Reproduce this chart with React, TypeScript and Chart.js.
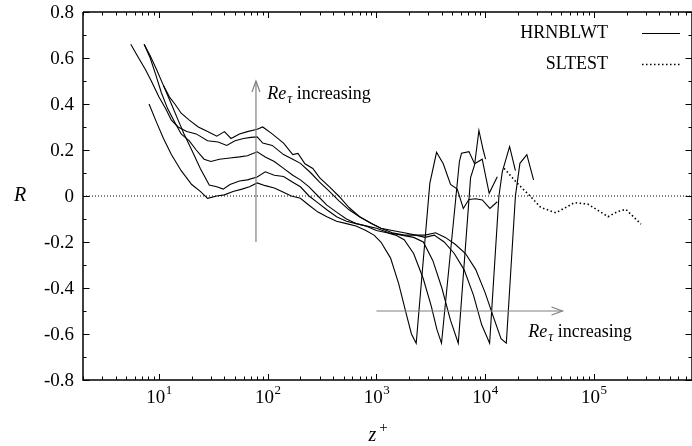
import React, { useEffect, useRef } from "react";
import { Chart, registerables } from "chart.js";

Chart.register(...registerables);

const SERIF = '"Liberation Serif", "Times New Roman", Times, serif';

// axis ranges
const X_MIN = 2;
const X_MAX = 8e5;
const Y_MIN = -0.8;
const Y_MAX = 0.8;

// tick labels
const yTickValues = [0.8, 0.6, 0.4, 0.2, 0, -0.2, -0.4, -0.6, -0.8];
const yTickLabels = ["0.8", "0.6", "0.4", "0.2", "0", "-0.2", "-0.4", "-0.6", "-0.8"];
const xTickValues = [10, 100, 1000, 10000, 100000];
const xTickBase = "10";
const xTickExponents = ["1", "2", "3", "4", "5"];

const legendLabels = ["HRNBLWT", "SLTEST"];
const xTitle = ["z", "+"];
const yTitle = "R";

// HRNBLWT curves (lowest to highest Re_tau)
const hrn1Z = [8.1, 9.5, 11, 13, 16, 20, 24, 28, 34, 40, 48, 58, 68, 80, 95, 115, 135, 165, 200, 240, 290, 350, 430, 530, 650, 800, 950, 1100, 1350, 1600, 1900, 2100, 2323, 3100, 3574, 4120, 4810, 5540, 6300, 7100, 8200, 9420, 11070, 12940];
const hrn1R = [0.40, 0.32, 0.25, 0.18, 0.11, 0.05, 0.02, -0.01, 0.0, 0.005, 0.02, 0.03, 0.04, 0.057, 0.045, 0.035, 0.02, 0.0, -0.01, -0.04, -0.07, -0.09, -0.11, -0.12, -0.13, -0.15, -0.17, -0.2, -0.27, -0.38, -0.52, -0.6, -0.64, 0.055, 0.19, 0.14, 0.05, 0.03, -0.054, -0.015, -0.012, -0.017, -0.054, -0.025];

const hrn2Z = [11, 13, 15, 17, 20, 24, 29, 34, 39, 45, 55, 65, 80, 95, 115, 140, 170, 200, 240, 290, 350, 430, 530, 650, 800, 1000, 1250, 1500, 1800, 2200, 2700, 3200, 3600, 3970, 5800, 6070, 7100, 8000, 9400, 10900, 12940];
const hrn2R = [0.48, 0.40, 0.33, 0.27, 0.2, 0.12, 0.048, 0.04, 0.03, 0.05, 0.065, 0.07, 0.083, 0.105, 0.09, 0.085, 0.06, 0.04, 0.0, -0.03, -0.06, -0.09, -0.11, -0.12, -0.13, -0.15, -0.16, -0.17, -0.19, -0.25, -0.36, -0.48, -0.58, -0.64, 0.15, 0.186, 0.193, 0.14, 0.16, 0.012, 0.084];

const hrn3Z = [7.3, 8.3, 9.3, 10.5, 12, 14, 16, 19, 22, 26, 30, 36, 45, 55, 65, 80, 95, 115, 140, 170, 200, 240, 290, 350, 430, 530, 650, 800, 1000, 1300, 1700, 2200, 2700, 3300, 4000, 4800, 5665, 7350, 8000, 8770, 9600, 10100];
const hrn3R = [0.66, 0.60, 0.53, 0.45, 0.38, 0.32, 0.27, 0.24, 0.2, 0.16, 0.15, 0.16, 0.165, 0.17, 0.175, 0.192, 0.17, 0.15, 0.12, 0.09, 0.07, 0.04, 0.0, -0.04, -0.07, -0.1, -0.12, -0.13, -0.14, -0.16, -0.17, -0.18, -0.2, -0.28, -0.4, -0.54, -0.64, 0.08, 0.135, 0.285, 0.2, 0.16];

const hrn4Z = [5.5, 6.5, 7.5, 8.5, 10, 11.5, 13, 15, 18, 22, 28, 35, 42, 50, 60, 70, 80, 90, 110, 140, 170, 200, 250, 300, 370, 450, 560, 700, 900, 1100, 1400, 1800, 2300, 2800, 3400, 4200, 5200, 6400, 7800, 9300, 11000, 13400, 14400, 16800, 19000];
const hrn4R = [0.66, 0.6, 0.55, 0.5, 0.43, 0.38, 0.33, 0.3, 0.28, 0.27, 0.24, 0.235, 0.22, 0.24, 0.25, 0.255, 0.257, 0.23, 0.22, 0.18, 0.16, 0.142, 0.1, 0.06, 0.02, -0.02, -0.06, -0.09, -0.12, -0.14, -0.16, -0.17, -0.17, -0.18, -0.17, -0.2, -0.25, -0.32, -0.43, -0.56, -0.64, 0.0, 0.106, 0.215, 0.11];

const hrn5Z = [7.3, 8.3, 9.5, 11, 12.5, 14, 16, 19, 23, 28, 34, 40, 46, 55, 65, 80, 90, 110, 140, 170, 190, 220, 260, 300, 370, 450, 560, 700, 900, 1100, 1400, 1800, 2300, 2800, 3500, 4300, 5300, 6600, 8200, 10000, 12000, 14000, 15670, 19000, 20900, 24200, 27900];
const hrn5R = [0.66, 0.61, 0.55, 0.48, 0.43, 0.4, 0.36, 0.33, 0.3, 0.28, 0.26, 0.28, 0.25, 0.27, 0.28, 0.29, 0.3, 0.27, 0.23, 0.18, 0.185, 0.14, 0.12, 0.08, 0.04, 0.0, -0.05, -0.09, -0.12, -0.14, -0.15, -0.16, -0.17, -0.17, -0.16, -0.18, -0.21, -0.25, -0.32, -0.42, -0.53, -0.62, -0.64, 0.0, 0.142, 0.18, 0.07];

// SLTEST curve
const sltZ = [14950, 19800, 26300, 32500, 44700, 55200, 66000, 87900, 108000, 135000, 165000, 197000, 271000];
const sltR = [0.12, 0.055, -0.003, -0.05, -0.073, -0.05, -0.029, -0.035, -0.061, -0.09, -0.068, -0.058, -0.122];

// zero reference line
const zeroZ = [X_MIN, X_MAX];
const zeroR = [0, 0];

// annotations
const arrowUpZ = [78, 78];
const arrowUpR = [-0.2, 0.5];
const arrowRightZ = [1000, 51500];
const arrowRightR = [-0.5, -0.5];
const annotUp = { z: 99, r: 0.42 };
const annotRight = { z: 24900, r: -0.612 };
const annotParts = ["Re", "\u03C4", " increasing"];

const zip = (zs: number[], rs: number[]) => zs.map((z, i) => ({ x: z, y: rs[i] }));

const hrnSeries = [
  [hrn1Z, hrn1R],
  [hrn2Z, hrn2R],
  [hrn3Z, hrn3R],
  [hrn4Z, hrn4R],
  [hrn5Z, hrn5R],
];

function drawArrowHead(ctx: CanvasRenderingContext2D, x: number, y: number, dx: number, dy: number) {
  const len = Math.hypot(dx, dy);
  const ux = dx / len, uy = dy / len;
  const L = 11, W = 4;
  ctx.beginPath();
  ctx.moveTo(x - ux * L - uy * W, y - uy * L + ux * W);
  ctx.lineTo(x, y);
  ctx.lineTo(x - ux * L + uy * W, y - uy * L - ux * W);
  ctx.stroke();
}

function drawAnnot(ctx: CanvasRenderingContext2D, x: number, y: number) {
  ctx.textAlign = "left";
  ctx.textBaseline = "alphabetic";
  ctx.font = `italic 18px ${SERIF}`;
  ctx.fillText(annotParts[0], x, y);
  let cx = x + ctx.measureText(annotParts[0]).width + 1;
  ctx.font = `italic 14px ${SERIF}`;
  ctx.fillText(annotParts[1], cx, y + 4);
  cx += ctx.measureText(annotParts[1]).width;
  ctx.font = `18px ${SERIF}`;
  ctx.fillText(annotParts[2], cx, y);
}

const decor = {
  id: "decor",
  afterDatasetsDraw(chart: any) {
    const { ctx, chartArea: a, scales } = chart;
    const xs = scales.x;
    const ys = scales.y;
    ctx.save();
    ctx.strokeStyle = "#000";
    ctx.fillStyle = "#000";

    // frame
    ctx.lineWidth = 1.5;
    ctx.beginPath();
    ctx.moveTo(a.left, a.top);
    ctx.lineTo(a.right, a.top);
    ctx.moveTo(a.left, a.top);
    ctx.lineTo(a.left, a.bottom);
    ctx.lineTo(a.right, a.bottom);
    ctx.lineTo(a.right, a.top);
    ctx.stroke();

    // ticks (inward, mirrored)
    ctx.lineWidth = 1;
    ctx.beginPath();
    for (let e = 0; e <= 6; e++) {
      for (let k = 1; k <= 9; k++) {
        const v = k * Math.pow(10, e);
        if (v < X_MIN || v > X_MAX) continue;
        const px = Math.round(xs.getPixelForValue(v)) + 0.5;
        const len = k === 1 ? 6 : 3.5;
        ctx.moveTo(px, a.bottom);
        ctx.lineTo(px, a.bottom - len);
        ctx.moveTo(px, a.top);
        ctx.lineTo(px, a.top + len);
      }
    }
    for (let i = -8; i <= 8; i++) {
      const v = i / 10;
      const py = Math.round(ys.getPixelForValue(v)) + 0.5;
      const len = i % 2 === 0 ? 6.5 : 3.5;
      ctx.moveTo(a.left, py);
      ctx.lineTo(a.left + len, py);
      ctx.moveTo(a.right, py);
      ctx.lineTo(a.right - len, py);
    }
    ctx.stroke();

    // y tick labels
    ctx.font = `19px ${SERIF}`;
    ctx.textAlign = "right";
    ctx.textBaseline = "middle";
    yTickValues.forEach((v, i) => {
      ctx.fillText(yTickLabels[i], a.left - 9, ys.getPixelForValue(v) + 1);
    });

    // x tick labels
    xTickValues.forEach((v, i) => {
      const px = xs.getPixelForValue(v);
      ctx.font = `19px ${SERIF}`;
      const wb = ctx.measureText(xTickBase).width;
      ctx.font = `13px ${SERIF}`;
      const we = ctx.measureText(xTickExponents[i]).width;
      const x0 = px - (wb + we) / 2;
      ctx.textAlign = "left";
      ctx.textBaseline = "alphabetic";
      ctx.font = `19px ${SERIF}`;
      ctx.fillText(xTickBase, x0, a.bottom + 23);
      ctx.font = `13px ${SERIF}`;
      ctx.fillText(xTickExponents[i], x0 + wb + 0.5, a.bottom + 14);
    });

    // axis titles
    ctx.font = `italic 20px ${SERIF}`;
    ctx.textAlign = "center";
    ctx.textBaseline = "alphabetic";
    ctx.fillText(yTitle, 20, ys.getPixelForValue(0) + 5);
    const midX = (a.left + a.right) / 2 - 15;
    ctx.fillText(xTitle[0], midX, 441);
    ctx.font = `15px ${SERIF}`;
    ctx.fillText(xTitle[1], midX + 11, 432);

    // legend
    ctx.font = `18px ${SERIF}`;
    ctx.textAlign = "right";
    ctx.fillText(legendLabels[0], 608, 38);
    ctx.fillText(legendLabels[1], 608, 69);
    ctx.lineWidth = 1.1;
    ctx.beginPath();
    ctx.moveTo(642, 33.5);
    ctx.lineTo(680, 33.5);
    ctx.stroke();
    ctx.setLineDash([1.5, 2.5]);
    ctx.lineWidth = 1.6;
    ctx.beginPath();
    ctx.moveTo(642, 64.5);
    ctx.lineTo(680, 64.5);
    ctx.stroke();
    ctx.setLineDash([]);

    // arrows
    ctx.strokeStyle = "#808080";
    ctx.lineWidth = 1.2;
    const ux = xs.getPixelForValue(arrowUpZ[0]);
    const uy0 = ys.getPixelForValue(arrowUpR[0]);
    const uy1 = ys.getPixelForValue(arrowUpR[1]);
    ctx.beginPath();
    ctx.moveTo(ux, uy0);
    ctx.lineTo(ux, uy1);
    ctx.stroke();
    drawArrowHead(ctx, ux, uy1, 0, -1);
    const rx0 = xs.getPixelForValue(arrowRightZ[0]);
    const rx1 = xs.getPixelForValue(arrowRightZ[1]);
    const ry = ys.getPixelForValue(arrowRightR[0]);
    ctx.beginPath();
    ctx.moveTo(rx0, ry);
    ctx.lineTo(rx1, ry);
    ctx.stroke();
    drawArrowHead(ctx, rx1, ry, 1, 0);

    // annotation text
    ctx.fillStyle = "#000";
    drawAnnot(ctx, xs.getPixelForValue(annotUp.z), ys.getPixelForValue(annotUp.r));
    drawAnnot(ctx, xs.getPixelForValue(annotRight.z), ys.getPixelForValue(annotRight.r));

    ctx.restore();
  },
};

export default function App() {
  const ref = useRef<HTMLCanvasElement | null>(null);
  useEffect(() => {
    if (!ref.current) return;
    const datasets: any[] = [
      {
        label: "zero",
        data: zip(zeroZ, zeroR),
        borderColor: "#000",
        borderWidth: 1,
        borderDash: [1, 2],
        pointRadius: 0,
        fill: false,
      },
      ...hrnSeries.map(([zs, rs], i) => ({
        label: i === 0 ? legendLabels[0] : `${legendLabels[0]} ${i + 1}`,
        data: zip(zs, rs),
        borderColor: "#000",
        borderWidth: 1.1,
        pointRadius: 0,
        tension: 0,
        fill: false,
      })),
      {
        label: legendLabels[1],
        data: zip(sltZ, sltR),
        borderColor: "#000",
        borderWidth: 1.6,
        borderDash: [1.5, 2.5],
        pointRadius: 0,
        tension: 0,
        fill: false,
      },
    ];
    const chart = new Chart(ref.current, {
      type: "line",
      data: { datasets },
      options: {
        animation: false,
        responsive: false,
        events: [],
        layout: { padding: { top: 12, left: 0, right: 0, bottom: 0 } },
        plugins: { legend: { display: false }, tooltip: { enabled: false } },
        scales: {
          x: {
            type: "logarithmic",
            min: X_MIN,
            max: X_MAX,
            grid: { display: false },
            border: { display: false },
            ticks: { display: false },
            afterFit: (s: any) => {
              s.height = 66;
            },
          },
          y: {
            type: "linear",
            min: Y_MIN,
            max: Y_MAX,
            grid: { display: false },
            border: { display: false },
            ticks: { display: false },
            afterFit: (s: any) => {
              s.width = 83;
            },
          },
        },
      },
      plugins: [decor],
    } as any);
    return () => chart.destroy();
  }, []);
  return (
    <div style={{ position: "absolute", left: 0, top: 0, width: 692, height: 446, background: "#fff" }}>
      <canvas ref={ref} width={692} height={446} style={{ display: "block" }} />
    </div>
  );
}
